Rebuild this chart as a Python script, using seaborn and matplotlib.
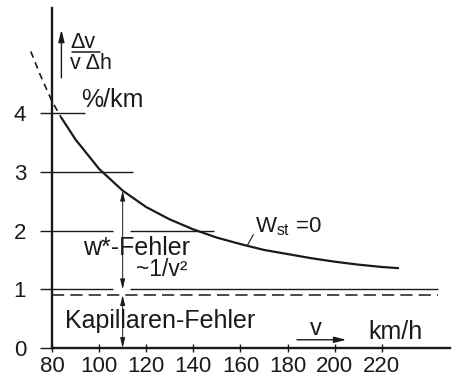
import matplotlib
matplotlib.use("Agg")
import matplotlib.pyplot as plt
import seaborn as sns
import pandas as pd

# ---- data ----
v_dashed = [71, 75, 80, 84]
y_dashed = [5.05, 4.65, 4.20, 3.92]
v_solid = [84, 90, 100, 110, 120, 130, 140, 150, 160, 170, 180, 190, 200, 210, 220, 227]
y_solid = [3.92, 3.55, 3.05, 2.68, 2.40, 2.19, 2.02, 1.88, 1.77, 1.67, 1.60, 1.53, 1.47, 1.42, 1.38, 1.36]
x_ticks = [80, 100, 120, 140, 160, 180, 200, 220]
y_ticks = [0, 1, 2, 3, 4]
kapillar_level = 0.9

sns.set_theme(style="white")
FONT = ["Liberation Sans", "DejaVu Sans"]
plt.rcParams["font.family"] = FONT
plt.rcParams["mathtext.fontset"] = "custom"
plt.rcParams["mathtext.rm"] = "Liberation Sans"
plt.rcParams["mathtext.it"] = "Liberation Sans"
plt.rcParams["mathtext.bf"] = "Liberation Sans"

INK = "#1a1a1a"
fig = plt.figure(figsize=(4.58, 3.85), dpi=100)
ax = fig.add_axes([52 / 458, 37 / 385, 398 / 458, 340 / 385])
ax.set_xlim(80, 249)
ax.set_ylim(0, 5.79)

df_s = pd.DataFrame({"v": v_solid, "y": y_solid})
df_d = pd.DataFrame({"v": v_dashed, "y": y_dashed})
sns.lineplot(data=df_s, x="v", y="y", ax=ax, color=INK, lw=1.6, sort=True)
sns.lineplot(data=df_d, x="v", y="y", ax=ax, color=INK, lw=1.2, sort=True,
             linestyle=(0, (4, 3)))
for ln in ax.lines:
    ln.set_clip_on(False)

# spines
for s in ["top", "right"]:
    ax.spines[s].set_visible(False)
for s in ["left", "bottom"]:
    ax.spines[s].set_color(INK)
    ax.spines[s].set_linewidth(1.7)

ax.set_xticks(x_ticks)
ax.set_yticks(y_ticks)
ax.set_xticklabels([str(t) for t in x_ticks], fontsize=16, color=INK)
ax.set_yticklabels([str(t) for t in y_ticks], fontsize=16, color=INK)
ax.tick_params(axis="x", direction="inout", length=6, width=1.0, color=INK, pad=3, bottom=True)
ax.tick_params(axis="y", direction="out", length=8.6, width=1.0, color=INK, pad=10, left=True)
ax.set_xlabel("")
ax.set_ylabel("")

# partial horizontal guide lines
lw_g = 1.0
ax.hlines(4, 80, 94, color=INK, lw=lw_g)
ax.hlines(3, 80, 114.5, color=INK, lw=lw_g)
ax.hlines(2, 80, 106, color=INK, lw=lw_g)
ax.hlines(2, 113, 149, color=INK, lw=lw_g)
ax.hlines(1, 80, 106, color=INK, lw=lw_g)
ax.hlines(1, 113, 244, color=INK, lw=lw_g)
ax.hlines(kapillar_level, 80, 244, color=INK, lw=1.1, linestyles=[(0, (8, 4))])

# double arrows at v = 110
ap = dict(arrowstyle="<|-|>,head_length=0.5,head_width=0.12", color=INK, lw=0.7,
          shrinkA=0, shrinkB=0)
ax.annotate("", xy=(110, 2.68), xytext=(110, 1.0), arrowprops=ap)
ax.annotate("", xy=(110, 0.9), xytext=(110, 0.0), arrowprops=ap)

# axis quantity arrows
ap1 = dict(arrowstyle="-|>,head_length=0.6,head_width=0.15", color=INK, lw=1.0,
           shrinkA=0, shrinkB=0)
ax.annotate("", xy=(84, 5.42), xytext=(84, 4.6), arrowprops=ap1, annotation_clip=False)
ax.annotate("", xy=(205, 0.14), xytext=(184, 0.14), arrowprops=ap1)

# texts
ax.text(93, 5.21, "Δv", fontsize=15.5, ha="center", va="center", color=INK)
ax.plot([88.5, 100.4], [5.04, 5.04], color=INK, lw=1.1)
ax.text(96.7, 4.84, "v Δh", fontsize=15.5, ha="center", va="center", color=INK)
ax.text(105.5, 4.22, "%/km", fontsize=18, ha="center", va="center", color=INK)
ax.text(115.7, 1.70, "w*-Fehler", fontsize=18, ha="center", va="center", color=INK)
ax.text(126.8, 1.33, "~1/v²", fontsize=16.5, ha="center", va="center", color=INK)
ax.text(85.5, 0.46, "Kapillaren-Fehler", fontsize=18, ha="left", va="center", color=INK)
ax.text(166, 2.06, r"W$_{\mathrm{st}}$ =0", fontsize=16, ha="left", va="center", color=INK)
ax.plot([165.5, 163], [1.93, 1.75], color=INK, lw=0.8)
ax.text(192, 0.33, "v", fontsize=17, ha="center", va="center", color=INK)
ax.text(226, 0.28, "km/h", fontsize=18, ha="center", va="center", color=INK)

fig.savefig("out.png", dpi=100, facecolor="white")
